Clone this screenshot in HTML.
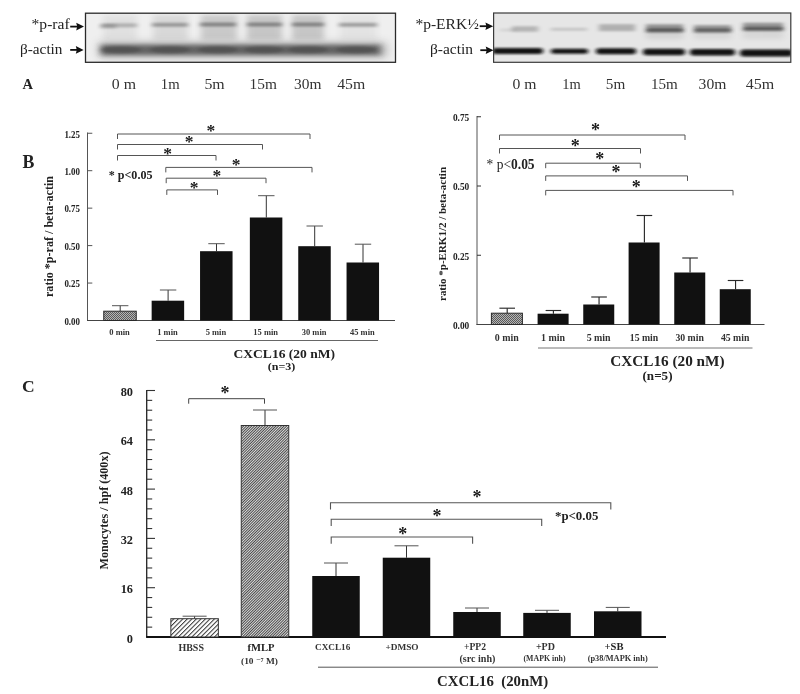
<!DOCTYPE html>
<html><head><meta charset="utf-8"><title>Figure</title>
<style>
html,body{margin:0;padding:0;background:#fff;}
body{width:800px;height:694px;overflow:hidden;}
svg{display:block;font-family:"Liberation Serif","DejaVu Serif",serif;filter:blur(0.4px);}
</style></head><body>
<svg width="800" height="694" viewBox="0 0 800 694">
<defs>
<filter id="b1" x="-20%" y="-150%" width="140%" height="400%"><feGaussianBlur stdDeviation="2.4 1.3"/></filter>
<filter id="b2" x="-20%" y="-100%" width="140%" height="300%"><feGaussianBlur stdDeviation="3 2"/></filter>
<filter id="b3" x="-20%" y="-100%" width="140%" height="300%"><feGaussianBlur stdDeviation="2 0.9"/></filter>
<filter id="b4" x="-20%" y="-100%" width="140%" height="300%"><feGaussianBlur stdDeviation="5 4"/></filter>
<pattern id="hatchA" width="3.2" height="3.2" patternUnits="userSpaceOnUse" patternTransform="rotate(-45)"><rect width="4" height="4" fill="#fff"/><rect width="4" height="1" fill="#333"/></pattern>
<pattern id="hatchB" width="4" height="1.9" patternUnits="userSpaceOnUse" patternTransform="rotate(-45)"><rect width="4" height="2" fill="#484848"/><rect y="1" width="4" height="0.9" fill="#e4e4e4"/></pattern>
<pattern id="dots" width="2" height="2" patternUnits="userSpaceOnUse"><rect width="2" height="2" fill="#b4b4b4"/><rect width="1" height="1" fill="#5a5a5a"/><rect x="1" y="1" width="1" height="1" fill="#5a5a5a"/></pattern>
<clipPath id="cA"><rect x="85" y="13" width="310.5" height="49.3"/></clipPath>
<clipPath id="cB"><rect x="493.6" y="13" width="297.2" height="49.3"/></clipPath>
</defs>
<rect width="800" height="694" fill="#fff"/>

<g clip-path="url(#cA)">
<rect x="85" y="13" width="310.5" height="49.5" fill="#efefef"/>
<rect x="103" y="15" width="34" height="25" fill="#555" opacity="0.09" filter="url(#b2)"/>
<rect x="153" y="15" width="35" height="25" fill="#555" opacity="0.14" filter="url(#b2)"/>
<rect x="201" y="15" width="36" height="25" fill="#555" opacity="0.24" filter="url(#b2)"/>
<rect x="247" y="15" width="35" height="25" fill="#555" opacity="0.26" filter="url(#b2)"/>
<rect x="292" y="15" width="32" height="25" fill="#555" opacity="0.26" filter="url(#b2)"/>
<rect x="340" y="15" width="37" height="25" fill="#555" opacity="0.07" filter="url(#b2)"/>
<rect x="102" y="23.3" width="35" height="4" fill="#444" opacity="0.3" filter="url(#b1)"/>
<rect x="152" y="22.8" width="36" height="4" fill="#444" opacity="0.42" filter="url(#b1)"/>
<rect x="200" y="22.5" width="36" height="4" fill="#444" opacity="0.5" filter="url(#b1)"/>
<rect x="247" y="22.5" width="35" height="4" fill="#444" opacity="0.5" filter="url(#b1)"/>
<rect x="292" y="22.5" width="32" height="4" fill="#444" opacity="0.5" filter="url(#b1)"/>
<rect x="339" y="22.8" width="38" height="4" fill="#444" opacity="0.42" filter="url(#b1)"/>
<rect x="100" y="24" width="16" height="4.5" fill="#444" opacity="0.25" filter="url(#b1)"/>
<rect x="99" y="43" width="287" height="14" fill="#666" opacity="0.5" filter="url(#b4)"/>
<rect x="101" y="44.8" width="279" height="10.2" fill="#444" opacity="0.7" filter="url(#b2)"/>
<ellipse cx="121" cy="49.8" rx="20" ry="3.8" fill="#2a2a2a" opacity="0.3" filter="url(#b1)"/>
<ellipse cx="170" cy="49.8" rx="20" ry="3.8" fill="#2a2a2a" opacity="0.3" filter="url(#b1)"/>
<ellipse cx="218" cy="49.8" rx="20" ry="3.8" fill="#2a2a2a" opacity="0.3" filter="url(#b1)"/>
<ellipse cx="264" cy="49.8" rx="20" ry="3.8" fill="#2a2a2a" opacity="0.3" filter="url(#b1)"/>
<ellipse cx="308" cy="49.8" rx="20" ry="3.8" fill="#2a2a2a" opacity="0.3" filter="url(#b1)"/>
<ellipse cx="356" cy="49.8" rx="20" ry="3.8" fill="#2a2a2a" opacity="0.3" filter="url(#b1)"/>
</g>
<rect x="85.5" y="13.2" width="310" height="49.1" fill="none" stroke="#2a2a2a" stroke-width="1.3"/>
<text x="31.6" y="28.7" font-size="15.55" text-anchor="start" fill="#222" textLength="38" lengthAdjust="spacingAndGlyphs" >*p-raf</text>
<text x="20" y="53.5" font-size="15.26" text-anchor="start" fill="#222" textLength="42.5" lengthAdjust="spacingAndGlyphs" >β-actin</text>
<line x1="70.2" y1="26.6" x2="80" y2="26.6" stroke="#111" stroke-width="1.8"/>
<path d="M84 26.6L76.2 22.8L77.2 26.6L76.2 30.400000000000002Z" fill="#111"/>
<line x1="70.2" y1="49.9" x2="79.6" y2="49.9" stroke="#111" stroke-width="1.8"/>
<path d="M83.6 49.9L75.8 46.1L76.8 49.9L75.8 53.699999999999996Z" fill="#111"/>
<text x="22.5" y="89" font-size="14.5" text-anchor="start" fill="#222" font-weight="bold" >A</text>
<text x="111.8" y="88.6" font-size="15" text-anchor="start" fill="#333" textLength="24.2" lengthAdjust="spacingAndGlyphs" >0 m</text>
<text x="160.8" y="88.6" font-size="15" text-anchor="start" fill="#333" textLength="18.8" lengthAdjust="spacingAndGlyphs" >1m</text>
<text x="204.4" y="88.6" font-size="15" text-anchor="start" fill="#333" textLength="20.3" lengthAdjust="spacingAndGlyphs" >5m</text>
<text x="249.6" y="88.6" font-size="15" text-anchor="start" fill="#333" textLength="27.3" lengthAdjust="spacingAndGlyphs" >15m</text>
<text x="294" y="88.6" font-size="15" text-anchor="start" fill="#333" textLength="27.4" lengthAdjust="spacingAndGlyphs" >30m</text>
<text x="337.2" y="88.6" font-size="15" text-anchor="start" fill="#333" textLength="28" lengthAdjust="spacingAndGlyphs" >45m</text>
<g clip-path="url(#cB)">
<rect x="493.5" y="13" width="297.5" height="49.5" fill="#e6e6e6"/>
<rect x="500" y="28.75" width="16" height="2.5" fill="#444" opacity="0.12" filter="url(#b1)"/>
<rect x="512" y="26.25" width="26" height="5.5" fill="#444" opacity="0.3" filter="url(#b1)"/>
<rect x="551" y="27.8" width="36" height="3" fill="#444" opacity="0.2" filter="url(#b1)"/>
<rect x="599" y="24.2" width="36" height="7" fill="#444" opacity="0.33" filter="url(#b1)"/>
<rect x="646" y="24.25" width="37" height="8.5" fill="#444" opacity="0.5" filter="url(#b1)"/>
<rect x="694" y="25.0" width="37" height="8" fill="#444" opacity="0.45" filter="url(#b1)"/>
<rect x="743" y="22.75" width="40" height="8.5" fill="#444" opacity="0.5" filter="url(#b1)"/>
<rect x="647" y="28.5" width="36" height="3" fill="#222" opacity="0.6" filter="url(#b1)"/>
<rect x="695" y="28.5" width="36" height="3" fill="#222" opacity="0.55" filter="url(#b1)"/>
<rect x="744" y="27.1" width="39" height="3" fill="#222" opacity="0.55" filter="url(#b1)"/>
<rect x="646" y="30" width="37" height="9" fill="#555" opacity="0.13" filter="url(#b2)"/>
<rect x="694" y="30" width="37" height="9" fill="#555" opacity="0.1" filter="url(#b2)"/>
<rect x="743" y="30" width="40" height="9" fill="#555" opacity="0.1" filter="url(#b2)"/>
<rect x="492" y="48.0" width="51" height="6" rx="3.0" fill="#0c0c0c" opacity="0.97" filter="url(#b3)"/>
<rect x="551" y="48.7" width="37" height="5" rx="2.5" fill="#0c0c0c" opacity="0.97" filter="url(#b3)"/>
<rect x="596" y="48.2" width="40" height="6" rx="3.0" fill="#0c0c0c" opacity="0.97" filter="url(#b3)"/>
<rect x="643" y="48.75" width="42" height="6.5" rx="3.25" fill="#0c0c0c" opacity="0.97" filter="url(#b3)"/>
<rect x="690" y="49.05" width="45" height="6.5" rx="3.25" fill="#0c0c0c" opacity="0.97" filter="url(#b3)"/>
<rect x="740" y="49.5" width="53" height="7" rx="3.5" fill="#0c0c0c" opacity="0.97" filter="url(#b3)"/>
</g>
<rect x="493.6" y="13" width="297.2" height="49.3" fill="none" stroke="#3a3a3a" stroke-width="1.2"/>
<text x="415.4" y="28.7" font-size="15.53" text-anchor="start" fill="#222" textLength="63.4" lengthAdjust="spacingAndGlyphs" >*p-ERK½</text>
<text x="430" y="54" font-size="15.44" text-anchor="start" fill="#222" textLength="43" lengthAdjust="spacingAndGlyphs" >β-actin</text>
<line x1="479.7" y1="26.2" x2="489.2" y2="26.2" stroke="#111" stroke-width="1.8"/>
<path d="M493.2 26.2L485.4 22.4L486.4 26.2L485.4 30.0Z" fill="#111"/>
<line x1="480.3" y1="50.2" x2="489.5" y2="50.2" stroke="#111" stroke-width="1.8"/>
<path d="M493.5 50.2L485.7 46.400000000000006L486.7 50.2L485.7 54.0Z" fill="#111"/>
<text x="512.5" y="88.5" font-size="15" text-anchor="start" fill="#333" textLength="24" lengthAdjust="spacingAndGlyphs" >0 m</text>
<text x="562.2" y="88.5" font-size="15" text-anchor="start" fill="#333" textLength="18.5" lengthAdjust="spacingAndGlyphs" >1m</text>
<text x="605.8" y="88.5" font-size="15" text-anchor="start" fill="#333" textLength="19.4" lengthAdjust="spacingAndGlyphs" >5m</text>
<text x="651" y="88.5" font-size="15" text-anchor="start" fill="#333" textLength="26.8" lengthAdjust="spacingAndGlyphs" >15m</text>
<text x="698.6" y="88.5" font-size="15" text-anchor="start" fill="#333" textLength="27.8" lengthAdjust="spacingAndGlyphs" >30m</text>
<text x="745.8" y="88.5" font-size="15" text-anchor="start" fill="#333" textLength="28.5" lengthAdjust="spacingAndGlyphs" >45m</text>
<line x1="87.5" y1="132.5" x2="87.5" y2="321.0" stroke="#555" stroke-width="1"/>
<line x1="87.0" y1="320.5" x2="395" y2="320.5" stroke="#444" stroke-width="1"/>
<text x="80" y="324.8" font-size="9.3" text-anchor="end" fill="#222" font-weight="bold" textLength="15.6" lengthAdjust="spacingAndGlyphs" >0.00</text>
<line x1="87.5" y1="283.05" x2="92.3" y2="283.05" stroke="#555" stroke-width="1"/>
<text x="80" y="287.35" font-size="9.3" text-anchor="end" fill="#222" font-weight="bold" textLength="15.6" lengthAdjust="spacingAndGlyphs" >0.25</text>
<line x1="87.5" y1="245.6" x2="92.3" y2="245.6" stroke="#555" stroke-width="1"/>
<text x="80" y="249.9" font-size="9.3" text-anchor="end" fill="#222" font-weight="bold" textLength="15.6" lengthAdjust="spacingAndGlyphs" >0.50</text>
<line x1="87.5" y1="208.14999999999998" x2="92.3" y2="208.14999999999998" stroke="#555" stroke-width="1"/>
<text x="80" y="212.45" font-size="9.3" text-anchor="end" fill="#222" font-weight="bold" textLength="15.6" lengthAdjust="spacingAndGlyphs" >0.75</text>
<line x1="87.5" y1="170.7" x2="92.3" y2="170.7" stroke="#555" stroke-width="1"/>
<text x="80" y="175.0" font-size="9.3" text-anchor="end" fill="#222" font-weight="bold" textLength="15.6" lengthAdjust="spacingAndGlyphs" >1.00</text>
<line x1="87.5" y1="133.25" x2="92.3" y2="133.25" stroke="#555" stroke-width="1"/>
<text x="80" y="137.55" font-size="9.3" text-anchor="end" fill="#222" font-weight="bold" textLength="15.6" lengthAdjust="spacingAndGlyphs" >1.25</text>
<text x="22.6" y="167.8" font-size="17.8" text-anchor="start" fill="#222" font-weight="bold" >B</text>
<text transform="translate(52.8,236.5) rotate(-90)" font-size="12.1" font-weight="bold" text-anchor="middle" fill="#222" textLength="121" lengthAdjust="spacingAndGlyphs">ratio *p-raf / beta-actin</text>
<line x1="120.2" y1="311.2" x2="120.2" y2="305.7" stroke="#333" stroke-width="1"/>
<line x1="112.0" y1="305.7" x2="128.4" y2="305.7" stroke="#555" stroke-width="1"/>
<rect x="103.75" y="311.2" width="32.5" height="9.300000000000011" fill="url(#dots)" stroke="#2a2a2a" stroke-width="1"/>
<line x1="168.1" y1="300.7" x2="168.1" y2="290" stroke="#333" stroke-width="1"/>
<line x1="159.9" y1="290" x2="176.29999999999998" y2="290" stroke="#555" stroke-width="1"/>
<rect x="151.65" y="300.7" width="32.5" height="19.80000000000001" fill="#111"/>
<line x1="216.5" y1="251.2" x2="216.5" y2="243.7" stroke="#333" stroke-width="1"/>
<line x1="208.3" y1="243.7" x2="224.7" y2="243.7" stroke="#555" stroke-width="1"/>
<rect x="200.05" y="251.2" width="32.5" height="69.30000000000001" fill="#111"/>
<line x1="266.3" y1="217.5" x2="266.3" y2="195.7" stroke="#333" stroke-width="1"/>
<line x1="258.1" y1="195.7" x2="274.5" y2="195.7" stroke="#555" stroke-width="1"/>
<rect x="249.85000000000002" y="217.5" width="32.5" height="103.0" fill="#111"/>
<line x1="314.7" y1="246.2" x2="314.7" y2="226" stroke="#333" stroke-width="1"/>
<line x1="306.5" y1="226" x2="322.9" y2="226" stroke="#555" stroke-width="1"/>
<rect x="298.25" y="246.2" width="32.5" height="74.30000000000001" fill="#111"/>
<line x1="363.0" y1="262.5" x2="363.0" y2="244.2" stroke="#333" stroke-width="1"/>
<line x1="354.8" y1="244.2" x2="371.2" y2="244.2" stroke="#555" stroke-width="1"/>
<rect x="346.55" y="262.5" width="32.5" height="58.0" fill="#111"/>
<text x="119.6" y="335.2" font-size="8.48" text-anchor="middle" fill="#333" font-weight="bold" textLength="20.5" lengthAdjust="spacingAndGlyphs" >0 min</text>
<text x="167.5" y="335.2" font-size="8.48" text-anchor="middle" fill="#333" font-weight="bold" textLength="20.5" lengthAdjust="spacingAndGlyphs" >1 min</text>
<text x="215.9" y="335.2" font-size="8.48" text-anchor="middle" fill="#333" font-weight="bold" textLength="20.5" lengthAdjust="spacingAndGlyphs" >5 min</text>
<text x="265.70000000000005" y="335.2" font-size="8.47" text-anchor="middle" fill="#333" font-weight="bold" textLength="24.7" lengthAdjust="spacingAndGlyphs" >15 min</text>
<text x="314.1" y="335.2" font-size="8.47" text-anchor="middle" fill="#333" font-weight="bold" textLength="24.7" lengthAdjust="spacingAndGlyphs" >30 min</text>
<text x="362.40000000000003" y="335.2" font-size="8.47" text-anchor="middle" fill="#333" font-weight="bold" textLength="24.7" lengthAdjust="spacingAndGlyphs" >45 min</text>
<line x1="156" y1="340.5" x2="378" y2="340.5" stroke="#666" stroke-width="1"/>
<text x="284.3" y="357.7" font-size="13" text-anchor="middle" fill="#222" font-weight="bold" textLength="101.6" lengthAdjust="spacingAndGlyphs" >CXCL16 (20 nM)</text>
<text x="281.5" y="370" font-size="11" text-anchor="middle" fill="#222" font-weight="bold" textLength="27.6" lengthAdjust="spacingAndGlyphs" >(n=3)</text>
<path d="M117.5 139V134H310V139" fill="none" stroke="#555" stroke-width="1"/>
<path d="M117.5 149.5V144.5H262.5V149.5" fill="none" stroke="#555" stroke-width="1"/>
<path d="M117.5 160.5V155.5H216V160.5" fill="none" stroke="#555" stroke-width="1"/>
<path d="M165.8 172.4V167.4H312V172.4" fill="none" stroke="#555" stroke-width="1"/>
<path d="M166.2 183.2V178.2H266V183.2" fill="none" stroke="#555" stroke-width="1"/>
<path d="M166.8 194.9V189.9H217.5V194.9" fill="none" stroke="#555" stroke-width="1"/>
<text x="210.8" y="135.86" font-size="17.5" text-anchor="middle" fill="#1a1a1a" font-weight="bold" >*</text>
<text x="189" y="147.26" font-size="17.5" text-anchor="middle" fill="#1a1a1a" font-weight="bold" >*</text>
<text x="167.7" y="158.66" font-size="17.5" text-anchor="middle" fill="#1a1a1a" font-weight="bold" >*</text>
<text x="236.2" y="169.96" font-size="17.5" text-anchor="middle" fill="#1a1a1a" font-weight="bold" >*</text>
<text x="216.8" y="180.66" font-size="17.5" text-anchor="middle" fill="#1a1a1a" font-weight="bold" >*</text>
<text x="194.1" y="193.46" font-size="17.5" text-anchor="middle" fill="#1a1a1a" font-weight="bold" >*</text>
<text x="108.7" y="178.5" font-size="12.08" text-anchor="start" fill="#222" font-weight="bold" textLength="43.8" lengthAdjust="spacingAndGlyphs" >* p&lt;0.05</text>
<line x1="477" y1="116.0" x2="477" y2="325.0" stroke="#555" stroke-width="1"/>
<line x1="476.5" y1="324.5" x2="764.5" y2="324.5" stroke="#444" stroke-width="1"/>
<text x="469.3" y="328.8" font-size="10.4" text-anchor="end" fill="#222" font-weight="bold" textLength="16.4" lengthAdjust="spacingAndGlyphs" >0.00</text>
<line x1="477" y1="255.25" x2="481" y2="255.25" stroke="#333" stroke-width="1"/>
<text x="469.3" y="259.55" font-size="10.4" text-anchor="end" fill="#222" font-weight="bold" textLength="16.4" lengthAdjust="spacingAndGlyphs" >0.25</text>
<line x1="477" y1="186.0" x2="481" y2="186.0" stroke="#333" stroke-width="1"/>
<text x="469.3" y="190.3" font-size="10.4" text-anchor="end" fill="#222" font-weight="bold" textLength="16.4" lengthAdjust="spacingAndGlyphs" >0.50</text>
<line x1="477" y1="116.75" x2="481" y2="116.75" stroke="#333" stroke-width="1"/>
<text x="469.3" y="121.05" font-size="10.4" text-anchor="end" fill="#222" font-weight="bold" textLength="16.4" lengthAdjust="spacingAndGlyphs" >0.75</text>
<text transform="translate(446.4,234) rotate(-90)" font-size="10.8" font-weight="bold" text-anchor="middle" fill="#222" textLength="134" lengthAdjust="spacingAndGlyphs">ratio *p-ERK1/2 / beta-actin</text>
<line x1="507.2" y1="313.2" x2="507.2" y2="308.2" stroke="#2a2a2a" stroke-width="1.15"/>
<line x1="499.4" y1="308.2" x2="515.0" y2="308.2" stroke="#2a2a2a" stroke-width="1.15"/>
<rect x="491.4" y="313.2" width="31.0" height="11.300000000000011" fill="url(#dots)" stroke="#2a2a2a" stroke-width="1"/>
<line x1="553.4" y1="313.7" x2="553.4" y2="310.5" stroke="#2a2a2a" stroke-width="1.15"/>
<line x1="545.6" y1="310.5" x2="561.1999999999999" y2="310.5" stroke="#2a2a2a" stroke-width="1.15"/>
<rect x="537.6" y="313.7" width="31.0" height="10.800000000000011" fill="#111"/>
<line x1="599.05" y1="304.5" x2="599.05" y2="297" stroke="#2a2a2a" stroke-width="1.15"/>
<line x1="591.25" y1="297" x2="606.8499999999999" y2="297" stroke="#2a2a2a" stroke-width="1.15"/>
<rect x="583.25" y="304.5" width="31.0" height="20.0" fill="#111"/>
<line x1="644.4" y1="242.5" x2="644.4" y2="215.5" stroke="#2a2a2a" stroke-width="1.15"/>
<line x1="636.6" y1="215.5" x2="652.1999999999999" y2="215.5" stroke="#2a2a2a" stroke-width="1.15"/>
<rect x="628.6" y="242.5" width="31.0" height="82.0" fill="#111"/>
<line x1="690.05" y1="272.5" x2="690.05" y2="258" stroke="#2a2a2a" stroke-width="1.15"/>
<line x1="682.25" y1="258" x2="697.8499999999999" y2="258" stroke="#2a2a2a" stroke-width="1.15"/>
<rect x="674.25" y="272.5" width="31.0" height="52.0" fill="#111"/>
<line x1="735.55" y1="289.2" x2="735.55" y2="280.5" stroke="#2a2a2a" stroke-width="1.15"/>
<line x1="727.75" y1="280.5" x2="743.3499999999999" y2="280.5" stroke="#2a2a2a" stroke-width="1.15"/>
<rect x="719.75" y="289.2" width="31.0" height="35.30000000000001" fill="#111"/>
<text x="506.79999999999995" y="340.8" font-size="9.93" text-anchor="middle" fill="#333" font-weight="bold" textLength="24" lengthAdjust="spacingAndGlyphs" >0 min</text>
<text x="553.0" y="340.8" font-size="9.93" text-anchor="middle" fill="#333" font-weight="bold" textLength="24" lengthAdjust="spacingAndGlyphs" >1 min</text>
<text x="598.65" y="340.8" font-size="9.93" text-anchor="middle" fill="#333" font-weight="bold" textLength="24" lengthAdjust="spacingAndGlyphs" >5 min</text>
<text x="644.0" y="340.8" font-size="9.77" text-anchor="middle" fill="#333" font-weight="bold" textLength="28.5" lengthAdjust="spacingAndGlyphs" >15 min</text>
<text x="689.65" y="340.8" font-size="9.77" text-anchor="middle" fill="#333" font-weight="bold" textLength="28.5" lengthAdjust="spacingAndGlyphs" >30 min</text>
<text x="735.15" y="340.8" font-size="9.77" text-anchor="middle" fill="#333" font-weight="bold" textLength="28.5" lengthAdjust="spacingAndGlyphs" >45 min</text>
<line x1="538" y1="348" x2="752.5" y2="348" stroke="#777" stroke-width="1"/>
<text x="667.4" y="365.6" font-size="14.6" text-anchor="middle" fill="#222" font-weight="bold" textLength="114.4" lengthAdjust="spacingAndGlyphs" >CXCL16 (20 nM)</text>
<text x="657.5" y="379.5" font-size="11.5" text-anchor="middle" fill="#222" font-weight="bold" textLength="30" lengthAdjust="spacingAndGlyphs" >(n=5)</text>
<path d="M499.5 140V135H685V140" fill="none" stroke="#555" stroke-width="1"/>
<path d="M499.5 153.5V148.5H640.5V153.5" fill="none" stroke="#555" stroke-width="1"/>
<path d="M545.7 168.2V163.2H640.3V168.2" fill="none" stroke="#555" stroke-width="1"/>
<path d="M545.7 180.9V175.9H687.5V180.9" fill="none" stroke="#555" stroke-width="1"/>
<path d="M545.7 195.4V190.4H733V195.4" fill="none" stroke="#555" stroke-width="1"/>
<text x="595.6" y="136.4" font-size="18" text-anchor="middle" fill="#1a1a1a" font-weight="bold" >*</text>
<text x="575.2" y="152.0" font-size="18" text-anchor="middle" fill="#1a1a1a" font-weight="bold" >*</text>
<text x="599.7" y="165.0" font-size="18" text-anchor="middle" fill="#1a1a1a" font-weight="bold" >*</text>
<text x="615.9" y="178.1" font-size="18" text-anchor="middle" fill="#1a1a1a" font-weight="bold" >*</text>
<text x="636.2" y="192.6" font-size="18" text-anchor="middle" fill="#1a1a1a" font-weight="bold" >*</text>
<text x="486.6" y="169.4" font-size="15" text-anchor="start" fill="#222" textLength="48" lengthAdjust="spacingAndGlyphs" >* p&lt;<tspan font-weight="bold">0.05</tspan></text>
<line x1="146.7" y1="389.9" x2="146.7" y2="637" stroke="#222" stroke-width="1.3"/>
<line x1="146.1" y1="637" x2="666" y2="637" stroke="#111" stroke-width="1.8"/>
<line x1="146.7" y1="627.14" x2="152.2" y2="627.14" stroke="#333" stroke-width="1.1"/>
<line x1="146.7" y1="617.28" x2="152.2" y2="617.28" stroke="#333" stroke-width="1.1"/>
<line x1="146.7" y1="607.42" x2="152.2" y2="607.42" stroke="#333" stroke-width="1.1"/>
<line x1="146.7" y1="597.56" x2="152.2" y2="597.56" stroke="#333" stroke-width="1.1"/>
<line x1="146.7" y1="587.7" x2="155.0" y2="587.7" stroke="#333" stroke-width="1.1"/>
<line x1="146.7" y1="577.84" x2="152.2" y2="577.84" stroke="#333" stroke-width="1.1"/>
<line x1="146.7" y1="567.98" x2="152.2" y2="567.98" stroke="#333" stroke-width="1.1"/>
<line x1="146.7" y1="558.12" x2="152.2" y2="558.12" stroke="#333" stroke-width="1.1"/>
<line x1="146.7" y1="548.26" x2="152.2" y2="548.26" stroke="#333" stroke-width="1.1"/>
<line x1="146.7" y1="538.4" x2="155.0" y2="538.4" stroke="#333" stroke-width="1.1"/>
<line x1="146.7" y1="528.54" x2="152.2" y2="528.54" stroke="#333" stroke-width="1.1"/>
<line x1="146.7" y1="518.6800000000001" x2="152.2" y2="518.6800000000001" stroke="#333" stroke-width="1.1"/>
<line x1="146.7" y1="508.82" x2="152.2" y2="508.82" stroke="#333" stroke-width="1.1"/>
<line x1="146.7" y1="498.96000000000004" x2="152.2" y2="498.96000000000004" stroke="#333" stroke-width="1.1"/>
<line x1="146.7" y1="489.1" x2="155.0" y2="489.1" stroke="#333" stroke-width="1.1"/>
<line x1="146.7" y1="479.24" x2="152.2" y2="479.24" stroke="#333" stroke-width="1.1"/>
<line x1="146.7" y1="469.38" x2="152.2" y2="469.38" stroke="#333" stroke-width="1.1"/>
<line x1="146.7" y1="459.52" x2="152.2" y2="459.52" stroke="#333" stroke-width="1.1"/>
<line x1="146.7" y1="449.66" x2="152.2" y2="449.66" stroke="#333" stroke-width="1.1"/>
<line x1="146.7" y1="439.8" x2="155.0" y2="439.8" stroke="#333" stroke-width="1.1"/>
<line x1="146.7" y1="429.94" x2="152.2" y2="429.94" stroke="#333" stroke-width="1.1"/>
<line x1="146.7" y1="420.08000000000004" x2="152.2" y2="420.08000000000004" stroke="#333" stroke-width="1.1"/>
<line x1="146.7" y1="410.22" x2="152.2" y2="410.22" stroke="#333" stroke-width="1.1"/>
<line x1="146.7" y1="400.36" x2="152.2" y2="400.36" stroke="#333" stroke-width="1.1"/>
<line x1="146.7" y1="390.5" x2="155.0" y2="390.5" stroke="#333" stroke-width="1.1"/>
<text x="133" y="642.5" font-size="12.3" text-anchor="end" fill="#222" font-weight="bold" >0</text>
<text x="133" y="593.2" font-size="12.3" text-anchor="end" fill="#222" font-weight="bold" >16</text>
<text x="133" y="543.9" font-size="12.3" text-anchor="end" fill="#222" font-weight="bold" >32</text>
<text x="133" y="494.6" font-size="12.3" text-anchor="end" fill="#222" font-weight="bold" >48</text>
<text x="133" y="445.3" font-size="12.3" text-anchor="end" fill="#222" font-weight="bold" >64</text>
<text x="133" y="396.0" font-size="12.3" text-anchor="end" fill="#222" font-weight="bold" >80</text>
<text x="22" y="391.9" font-size="17.5" text-anchor="start" fill="#222" font-weight="bold" >C</text>
<text transform="translate(108.4,510.5) rotate(-90)" font-size="12.1" font-weight="bold" text-anchor="middle" fill="#222" textLength="118" lengthAdjust="spacingAndGlyphs">Monocytes / hpf (400x)</text>
<line x1="194.6" y1="618.7" x2="194.6" y2="616.2" stroke="#333" stroke-width="1"/>
<line x1="182.6" y1="616.2" x2="206.6" y2="616.2" stroke="#555" stroke-width="1"/>
<rect x="170.85" y="618.7" width="47.5" height="18.299999999999955" fill="url(#hatchA)" stroke="#333" stroke-width="1"/>
<line x1="265" y1="425.5" x2="265" y2="410" stroke="#333" stroke-width="1"/>
<line x1="253.0" y1="410" x2="277.0" y2="410" stroke="#555" stroke-width="1"/>
<rect x="241.25" y="425.5" width="47.5" height="211.5" fill="url(#hatchB)" stroke="#333" stroke-width="1"/>
<line x1="336" y1="576" x2="336" y2="563" stroke="#333" stroke-width="1"/>
<line x1="324.0" y1="563" x2="348.0" y2="563" stroke="#555" stroke-width="1"/>
<rect x="312.25" y="576" width="47.5" height="61" fill="#111"/>
<line x1="406.5" y1="557.7" x2="406.5" y2="545.8" stroke="#333" stroke-width="1"/>
<line x1="394.5" y1="545.8" x2="418.5" y2="545.8" stroke="#555" stroke-width="1"/>
<rect x="382.75" y="557.7" width="47.5" height="79.29999999999995" fill="#111"/>
<line x1="477" y1="612" x2="477" y2="608" stroke="#333" stroke-width="1"/>
<line x1="465.0" y1="608" x2="489.0" y2="608" stroke="#555" stroke-width="1"/>
<rect x="453.25" y="612" width="47.5" height="25" fill="#111"/>
<line x1="547" y1="612.9" x2="547" y2="610.3" stroke="#333" stroke-width="1"/>
<line x1="535.0" y1="610.3" x2="559.0" y2="610.3" stroke="#555" stroke-width="1"/>
<rect x="523.25" y="612.9" width="47.5" height="24.100000000000023" fill="#111"/>
<line x1="617.75" y1="611.3" x2="617.75" y2="607.4" stroke="#333" stroke-width="1"/>
<line x1="605.75" y1="607.4" x2="629.75" y2="607.4" stroke="#555" stroke-width="1"/>
<rect x="594.0" y="611.3" width="47.5" height="25.700000000000045" fill="#111"/>
<text x="191.2" y="650.5" font-size="9.97" text-anchor="middle" fill="#333" font-weight="bold" textLength="25.5" lengthAdjust="spacingAndGlyphs" >HBSS</text>
<text x="261" y="650.8" font-size="10.57" text-anchor="middle" fill="#222" font-weight="bold" textLength="27" lengthAdjust="spacingAndGlyphs" >fMLP</text>
<text x="259.5" y="663.7" font-size="8.5" text-anchor="middle" fill="#333" font-weight="bold" textLength="37" lengthAdjust="spacingAndGlyphs" >(10 ⁻⁷ M)</text>
<text x="332.7" y="650" font-size="9.18" text-anchor="middle" fill="#333" font-weight="bold" textLength="35.2" lengthAdjust="spacingAndGlyphs" >CXCL16</text>
<text x="402" y="650" font-size="9" text-anchor="middle" fill="#333" font-weight="bold" textLength="33.2" lengthAdjust="spacingAndGlyphs" >+DMSO</text>
<text x="475" y="650" font-size="9.6" text-anchor="middle" fill="#333" font-weight="bold" textLength="22" lengthAdjust="spacingAndGlyphs" >+PP2</text>
<text x="477.4" y="661.5" font-size="9.5" text-anchor="middle" fill="#333" font-weight="bold" textLength="36" lengthAdjust="spacingAndGlyphs" >(src inh)</text>
<text x="545.4" y="650" font-size="9.98" text-anchor="middle" fill="#333" font-weight="bold" textLength="19" lengthAdjust="spacingAndGlyphs" >+PD</text>
<text x="544.5" y="661" font-size="7.5" text-anchor="middle" fill="#333" font-weight="bold" textLength="42" lengthAdjust="spacingAndGlyphs" >(MAPK inh)</text>
<text x="614" y="650" font-size="10.6" text-anchor="middle" fill="#222" font-weight="bold" textLength="19" lengthAdjust="spacingAndGlyphs" >+SB</text>
<text x="617.7" y="661" font-size="8.2" text-anchor="middle" fill="#333" font-weight="bold" textLength="60" lengthAdjust="spacingAndGlyphs" >(p38/MAPK inh)</text>
<line x1="318" y1="667.2" x2="658" y2="667.2" stroke="#555" stroke-width="1"/>
<text x="492.6" y="686.4" font-size="15" text-anchor="middle" fill="#222" font-weight="bold" textLength="111" lengthAdjust="spacingAndGlyphs" xml:space="preserve">CXCL16  (20nM)</text>
<path d="M188.7 403.7V398.7H264.5V403.7" fill="none" stroke="#444" stroke-width="1"/>
<text x="225" y="399.2" font-size="18" text-anchor="middle" fill="#1a1a1a" font-weight="bold" >*</text>
<path d="M330.5 509.6V502.8H610.8V509.6" fill="none" stroke="#555" stroke-width="1.1"/>
<path d="M331.2 526.0V519.2H541.7V526.0" fill="none" stroke="#555" stroke-width="1.1"/>
<path d="M331.2 543.8V537H472.6V543.8" fill="none" stroke="#555" stroke-width="1.1"/>
<text x="477" y="503.0" font-size="18" text-anchor="middle" fill="#1a1a1a" font-weight="bold" >*</text>
<text x="437" y="522.2" font-size="18" text-anchor="middle" fill="#1a1a1a" font-weight="bold" >*</text>
<text x="402.7" y="539.5" font-size="18" text-anchor="middle" fill="#1a1a1a" font-weight="bold" >*</text>
<text x="555" y="520" font-size="12.83" text-anchor="start" fill="#222" font-weight="bold" textLength="43.3" lengthAdjust="spacingAndGlyphs" >*p&lt;0.05</text>
</svg></body></html>
